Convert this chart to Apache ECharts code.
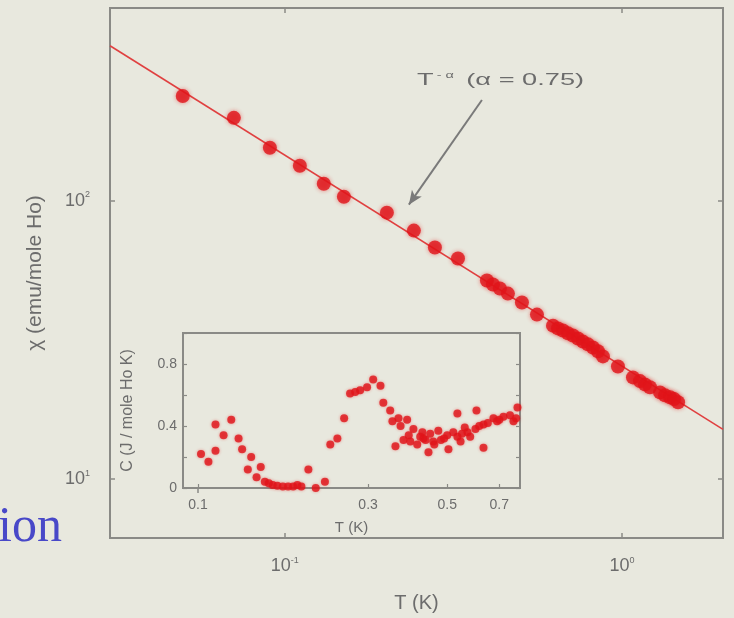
<!DOCTYPE html>
<html>
<head>
<meta charset="utf-8">
<script src="https://cdn.jsdelivr.net/npm/echarts@6/dist/echarts.min.js"></script>
<style>
  html, body { margin: 0; padding: 0; background: #e8e8de; }
  #main { width: 734px; height: 618px; }
</style>
</head>
<body>
<div id="main"></div>
<script>
// main panel: susceptibility vs T (log-log)
var chiT = [0.0498, 0.0706, 0.0903, 0.1108, 0.1305, 0.1497, 0.2008, 0.2414, 0.2787, 0.3263,
  0.3976, 0.4143, 0.4345, 0.4589, 0.5050, 0.5596, 0.6243, 0.6459, 0.6683, 0.6916,
  0.7156, 0.7405, 0.7662, 0.7928, 0.8203, 0.8487, 0.8782, 0.9730, 1.078, 1.131,
  1.170, 1.211, 1.297, 1.342, 1.389, 1.427, 1.467];
var chiVal = [237.8, 198.4, 154.9, 133.5, 115.1, 103.3, 90.6, 78.1, 67.9, 62.0,
  51.7, 50.0, 48.4, 46.4, 43.1, 39.0, 35.6, 34.8, 34.2, 33.4,
  32.8, 32.0, 31.2, 30.5, 29.7, 28.8, 27.6, 25.4, 23.2, 22.5,
  21.9, 21.4, 20.5, 20.0, 19.7, 19.4, 18.9];

// T^-0.75 fit, end points
var fitT = [0.0303, 1.994];
var fitChi = [360, 15.1];

// arrow of the annotation (tail, head)
var arrowT = [0.3843, 0.2333];
var arrowChi = [230, 96.8];

var mainXTicks = [0.1, 1];
var mainYTicks = [10, 100];

// inset: specific heat C vs T
var heatT = [0.102, 0.107, 0.112, 0.112, 0.118, 0.124, 0.130, 0.133, 0.138, 0.141,
  0.146, 0.150, 0.154, 0.158, 0.162, 0.167, 0.173, 0.179, 0.185, 0.190,
  0.195, 0.204, 0.214, 0.227, 0.235, 0.246, 0.257, 0.267, 0.276, 0.285,
  0.298, 0.310, 0.325, 0.331, 0.346, 0.351, 0.358, 0.365, 0.377, 0.386,
  0.394, 0.402, 0.412, 0.426, 0.429, 0.443, 0.448, 0.457, 0.472, 0.500,
  0.504, 0.534, 0.534, 0.545, 0.570, 0.600, 0.604, 0.632, 0.632, 0.674,
  0.719, 0.767, 0.787, 0.370, 0.420, 0.480, 0.520, 0.560, 0.650, 0.700,
  0.750, 0.780, 0.390, 0.460, 0.580, 0.435, 0.490, 0.550, 0.615, 0.690];
var heatC = [0.22, 0.17, 0.24, 0.41, 0.34, 0.44, 0.32, 0.25, 0.12, 0.20,
  0.07, 0.135, 0.04, 0.03, 0.02, 0.015, 0.01, 0.01, 0.01, 0.02,
  0.01, 0.12, 0.0, 0.04, 0.28, 0.32, 0.45, 0.61, 0.62, 0.63,
  0.65, 0.70, 0.66, 0.55, 0.50, 0.43, 0.27, 0.45, 0.31, 0.44,
  0.30, 0.38, 0.28, 0.36, 0.32, 0.23, 0.35, 0.30, 0.37, 0.34,
  0.25, 0.33, 0.48, 0.30, 0.36, 0.38, 0.50, 0.41, 0.26, 0.45,
  0.46, 0.43, 0.52, 0.40, 0.33, 0.31, 0.36, 0.39, 0.42, 0.44,
  0.47, 0.45, 0.34, 0.28, 0.33, 0.31, 0.32, 0.35, 0.40, 0.43];

var insetXTicks = [0.1, 0.3, 0.5, 0.7];
var insetYLabels = [0, 0.4, 0.8];

var chart = echarts.init(document.getElementById('main'), null, { renderer: 'canvas' });

var frame = '#8a8a86';
var textGray = '#6c6c6c';
var red = '#e0141a';

function zip(a, b) {
  return a.map(function (v, i) { return [v, b[i]]; });
}

function powLabel(v) {
  var e = Math.round(Math.log10(v));
  return '{n|10}{e|' + e + '}';
}

var powRich = {
  n: { fontSize: 18, color: textGray, fontFamily: 'Liberation Sans' },
  e: { fontSize: 9, color: textGray, fontFamily: 'Liberation Sans', padding: [0, 0, 12, 0] }
};

function mirrorAxis(base, pos, ticks) {
  return Object.assign({}, base, {
    position: pos,
    axisLabel: { show: false },
    axisTick: { inside: true, length: 5, lineStyle: { color: frame, width: 1.5 }, customValues: ticks },
    name: ''
  });
}

var mainX = {
  type: 'log', gridIndex: 0, min: 0.0303, max: 1.994, logBase: 10,
  axisLine: { show: false },
  splitLine: { show: false },
  minorTick: { show: false },
  axisTick: { inside: true, length: 5, lineStyle: { color: frame, width: 1.5 }, customValues: mainXTicks },
  axisLabel: { margin: 18, formatter: powLabel, rich: powRich, customValues: mainXTicks },
  name: 'T (K)', nameLocation: 'middle', nameGap: 55,
  nameTextStyle: { fontSize: 20, color: textGray, fontFamily: 'Liberation Sans' }
};
var mainY = {
  type: 'log', gridIndex: 0, min: 6.15, max: 492, logBase: 10,
  axisLine: { show: false },
  splitLine: { show: false },
  axisTick: { inside: true, length: 5, lineStyle: { color: frame, width: 1.5 }, customValues: mainYTicks },
  axisLabel: { margin: 20, formatter: powLabel, rich: powRich, customValues: mainYTicks },
  name: 'χ (emu/mole Ho)', nameLocation: 'middle', nameGap: 64, nameRotate: 90,
  nameTextStyle: { fontSize: 21, color: textGray, fontFamily: 'Liberation Sans' }
};

var insetX = {
  type: 'log', gridIndex: 1, min: 0.0908, max: 0.80, logBase: 10,
  axisLine: { show: false },
  splitLine: { show: false },
  axisTick: { inside: true, length: 4, lineStyle: { color: frame, width: 1.2 }, customValues: insetXTicks },
  axisLabel: { margin: 10, fontSize: 14, color: textGray, fontFamily: 'Liberation Sans',
    customValues: insetXTicks, formatter: function (v) { return String(+v.toFixed(1)); } },
  name: 'T (K)', nameLocation: 'middle', nameGap: 32,
  nameTextStyle: { fontSize: 15, color: textGray, fontFamily: 'Liberation Sans' }
};
var insetY = {
  type: 'value', gridIndex: 1, min: 0, max: 1.0, interval: 0.2,
  axisLine: { show: false },
  splitLine: { show: false },
  axisTick: { inside: true, length: 4, lineStyle: { color: frame, width: 1.2 } },
  axisLabel: { margin: 6, fontSize: 14, color: textGray, fontFamily: 'Liberation Sans',
    formatter: function (v) {
      var r = Math.round(v * 10) / 10;
      return insetYLabels.indexOf(r) >= 0 ? String(r) : '';
    } },
  name: 'C (J / mole Ho K)', nameLocation: 'middle', nameGap: 47, nameRotate: 90,
  nameTextStyle: { fontSize: 16, color: textGray, fontFamily: 'Liberation Sans' }
};

var option = {
  backgroundColor: '#e8e8de',
  animation: false,
  grid: [
    { left: 110, top: 8, right: 11, bottom: 77, show: true, borderColor: frame, borderWidth: 2, backgroundColor: 'transparent' },
    { left: 183, top: 333, width: 337, height: 155, show: true, borderColor: frame, borderWidth: 2, backgroundColor: 'transparent' }
  ],
  xAxis: [
    mainX,
    mirrorAxis(mainX, 'top', mainXTicks),
    insetX,
    mirrorAxis(insetX, 'top', [0.1])
  ],
  yAxis: [
    mainY,
    mirrorAxis(mainY, 'right', mainYTicks),
    insetY,
    Object.assign(mirrorAxis(insetY, 'right'), { axisTick: { inside: true, length: 4, lineStyle: { color: frame, width: 1.2 } } })
  ],
  graphic: [
    {
      type: 'text', x: 417, y: 71, scaleX: 1.6,
      style: {
        text: '{t|T}{s|- α}{t| (α = 0.75)}',
        rich: {
          t: { fontSize: 17, fill: textGray, fontFamily: 'Liberation Sans' },
          s: { fontSize: 9, fill: textGray, fontFamily: 'Liberation Sans', padding: [0, 3, 10, 2] }
        }
      }
    },
    {
      type: 'text', left: -2, top: 503,
      style: { text: 'ion', fontSize: 50, fill: '#4848c8', fontFamily: 'Liberation Serif' }
    }
  ],
  series: [
    {
      type: 'line', xAxisIndex: 0, yAxisIndex: 0,
      data: zip(fitT, fitChi),
      showSymbol: false, silent: true,
      lineStyle: { color: '#e04040', width: 1.6 },
      z: 2
    },
    {
      type: 'scatter', xAxisIndex: 0, yAxisIndex: 0,
      data: zip(chiT, chiVal),
      symbolSize: 14,
      itemStyle: { color: red, shadowBlur: 4, shadowColor: 'rgba(230,20,20,0.6)' },
      z: 3,
      markLine: {
        silent: true,
        symbol: ['none', 'arrow'],
        symbolSize: [9, 14],
        label: { show: false },
        lineStyle: { color: '#7a7a7a', width: 2, type: 'solid' },
        data: [[{ coord: [arrowT[0], arrowChi[0]] }, { coord: [arrowT[1], arrowChi[1]] }]]
      }
    },
    {
      type: 'scatter', xAxisIndex: 2, yAxisIndex: 2,
      data: zip(heatT, heatC),
      symbolSize: 8,
      itemStyle: { color: red, shadowBlur: 3, shadowColor: 'rgba(230,20,20,0.5)' },
      z: 3
    }
  ]
};

chart.setOption(option);
</script>
</body>
</html>
